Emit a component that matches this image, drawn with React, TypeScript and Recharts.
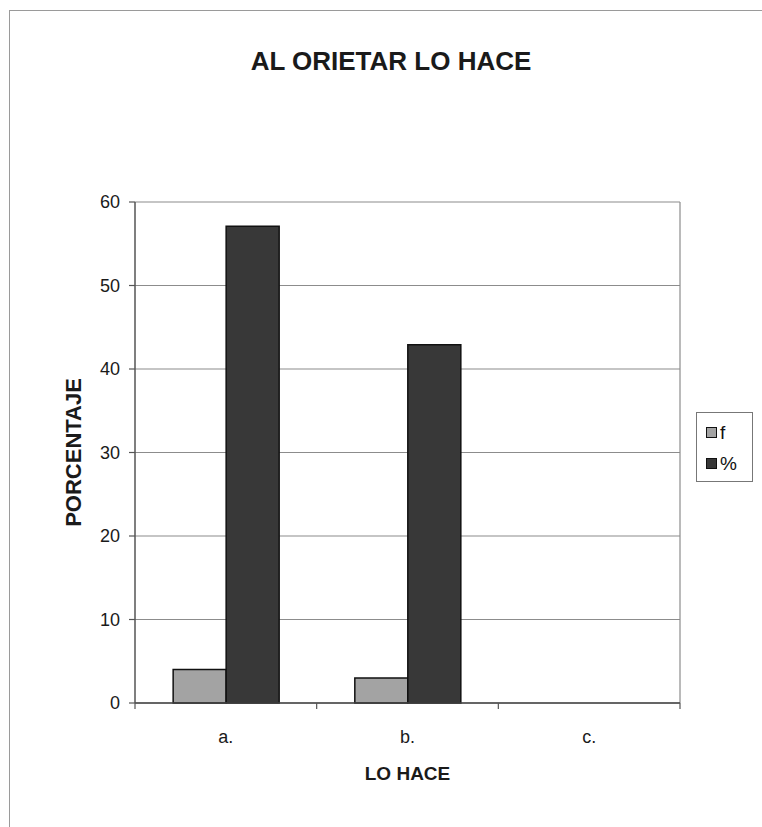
import React from 'react';
import { BarChart, Bar, XAxis, YAxis, CartesianGrid, Legend, Label } from 'recharts';

const categories = ['a.', 'b.', 'c.'];
const frecuencia = [4, 3, 0];
const porcentaje = [57.1, 42.9, 0];
const yTicks = [0, 10, 20, 30, 40, 50, 60];
const legendOrder = ['f', '%'];

const chartData = categories.map((name, i) => ({
  name,
  f: frecuencia[i],
  pct: porcentaje[i],
}));

const FONT = '"Liberation Sans", Arial, sans-serif';

const renderLegend = (props: any) => {
  const items = [...(props.payload || [])].sort(
    (a: any, b: any) => legendOrder.indexOf(a.value) - legendOrder.indexOf(b.value)
  );
  return (
    <div
      style={{
        boxSizing: 'border-box',
        width: 57,
        height: 70,
        border: '1px solid #777',
        padding: '4px 0 0 9px',
        fontFamily: FONT,
        fontSize: 19,
        color: '#111',
        background: '#fff',
      }}
    >
      {items.map((entry: any, i: number) => (
        <div key={`leg-${i}`} style={{ display: 'flex', alignItems: 'center', height: 31 }}>
          <span
            style={{
              display: 'inline-block',
              boxSizing: 'border-box',
              width: 11,
              height: 11,
              background: entry.color,
              border: '1.5px solid #111',
              marginRight: 3,
            }}
          />
          <span>{entry.value}</span>
        </div>
      ))}
    </div>
  );
};

// category label plus the small tick marks that sit on the category boundaries
const CategoryTick = (props: any) => {
  const { x, y, payload, index, visibleTicksCount } = props;
  const half = payload.offset || 0;
  const axisY = y - 27;
  const isLast = index === visibleTicksCount - 1;
  return (
    <g>
      <line x1={x - half} y1={axisY} x2={x - half} y2={axisY + 6} stroke="#555" strokeWidth={1.2} />
      {isLast && (
        <line x1={x + half} y1={axisY} x2={x + half} y2={axisY + 6} stroke="#555" strokeWidth={1.2} />
      )}
      <text x={x} y={y} dy="0.71em" textAnchor="middle" fontFamily={FONT} fontSize={18} fill="#1a1a1a">
        {payload.value}
      </text>
    </g>
  );
};

const App: React.FC = () => {
  return (
    <div style={{ position: 'absolute', left: 0, top: 0, width: 762, height: 827, background: '#fff' }}>
      {/* outer frame of the scanned chart */}
      <div
        style={{
          position: 'absolute',
          left: 9,
          top: 10,
          width: 753,
          height: 817,
          borderTop: '1.5px solid #9a9a9a',
          borderLeft: '1.5px solid #9a9a9a',
        }}
      />
      <div
        style={{
          position: 'absolute',
          left: 0,
          top: 46,
          width: 782,
          textAlign: 'center',
          fontFamily: FONT,
          fontWeight: 'bold',
          fontSize: 26,
          color: '#1a1a1a',
        }}
      >
        AL ORIETAR LO HACE
      </div>
      <BarChart
        width={762}
        height={827}
        data={chartData}
        margin={{ top: 202, right: 82, bottom: 84, left: 75 }}
        barCategoryGap="21%"
        barGap={0}
        style={{ position: 'absolute', left: 0, top: 0 }}
      >
        <CartesianGrid
          stroke="#8c8c8c"
          strokeWidth={1.2}
          verticalCoordinatesGenerator={({ offset }: any) => [offset.left + offset.width]}
        />
        <XAxis
          dataKey="name"
          height={40}
          tickLine={false}
          tickSize={0}
          tickMargin={27}
          interval={0}
          axisLine={{ stroke: '#444', strokeWidth: 1.5 }}
          tick={<CategoryTick />}
        >
          <Label
            value="LO HACE"
            position="bottom"
            offset={24}
            style={{ fontFamily: FONT, fontSize: 19, fontWeight: 'bold', fill: '#1a1a1a' }}
          />
        </XAxis>
        <YAxis
          domain={[0, 60]}
          ticks={yTicks}
          width={60}
          tickSize={6}
          tickMargin={9}
          axisLine={{ stroke: '#555', strokeWidth: 1.5 }}
          tickLine={{ stroke: '#555', strokeWidth: 1.2 }}
          tick={{ fontFamily: FONT, fontSize: 18, fill: '#1a1a1a' }}
        >
          <Label
            value="PORCENTAJE"
            angle={-90}
            position="insideLeft"
            offset={-2}
            style={{ fontFamily: FONT, fontSize: 22, fontWeight: 'bold', fill: '#1a1a1a', textAnchor: 'middle' }}
          />
        </YAxis>
        <Legend
          layout="horizontal"
          verticalAlign="middle"
          align="center"
          content={renderLegend}
          wrapperStyle={{ position: 'absolute', left: 696, top: 412, width: 57, height: 70 }}
        />
        <Bar
          dataKey="f"
          name="f"
          fill="#a3a3a3"
          stroke="#111"
          strokeWidth={1.5}
          isAnimationActive={false}
        />
        <Bar
          dataKey="pct"
          name="%"
          fill="#383838"
          stroke="#111"
          strokeWidth={1.5}
          isAnimationActive={false}
        />
      </BarChart>
    </div>
  );
};

export default App;
